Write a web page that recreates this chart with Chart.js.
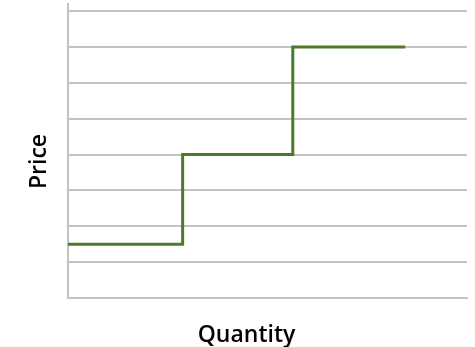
<!DOCTYPE html>
<html>
<head>
<meta charset="utf-8">
<script src="https://cdn.jsdelivr.net/npm/chart.js@4/dist/chart.umd.min.js"></script>
<style>
  html, body { margin: 0; padding: 0; background: #ffffff; }
  #wrap { width: 475px; height: 347px; }
</style>
</head>
<body>
<div id="wrap"><canvas id="chart" width="475" height="347"></canvas></div>
<script>
// Supply schedule: quantity break points and the price at each step
const quantities = [0, 1.02, 2, 3];
const prices = [1.5, 4, 7, 7];
const xTitle = 'Quantity';
const yTitle = 'Price';

const lineColor = '#4b7b29';
const gridColor = '#c3c3c3';
const titleFont = '600 23px "Open Sans", "Noto Sans", sans-serif';

// Axis captions placed around the plot area
const axisCaptions = {
  id: 'axisCaptions',
  afterDraw(chart) {
    const { ctx, chartArea } = chart;
    ctx.save();
    ctx.fillStyle = '#000000';
    ctx.font = titleFont;
    ctx.textAlign = 'center';
    ctx.textBaseline = 'alphabetic';
    ctx.fillText(xTitle, (chartArea.left + chartArea.right) / 2 - 21, chartArea.bottom + 43.5);
    ctx.translate(chartArea.left - 22.5, (chartArea.top + chartArea.bottom) / 2 + 10.5);
    ctx.rotate(-Math.PI / 2);
    ctx.fillText(yTitle, 0, 0);
    ctx.restore();
  }
};

new Chart(document.getElementById('chart'), {
  type: 'line',
  data: {
    datasets: [{
      data: quantities.map((q, i) => ({ x: q, y: prices[i] })),
      borderColor: lineColor,
      borderWidth: 3,
      stepped: 'before',
      pointRadius: 0,
      fill: false,
      borderCapStyle: 'butt',
      borderJoinStyle: 'miter'
    }]
  },
  options: {
    responsive: false,
    animation: false,
    layout: { padding: { left: 68, right: 8, top: 4, bottom: 49 } },
    plugins: { legend: { display: false }, tooltip: { enabled: false } },
    scales: {
      x: {
        type: 'linear',
        min: 0,
        max: 3.55,
        ticks: { display: false },
        grid: { display: false, drawTicks: false },
        border: { display: true, color: gridColor, width: 2 }
      },
      y: {
        type: 'linear',
        min: 0,
        max: 8.2,
        ticks: { display: false, stepSize: 1, includeBounds: false },
        grid: { color: gridColor, lineWidth: 2, drawTicks: false },
        border: { display: true, color: gridColor, width: 2 }
      }
    }
  },
  plugins: [axisCaptions]
});
</script>
</body>
</html>
